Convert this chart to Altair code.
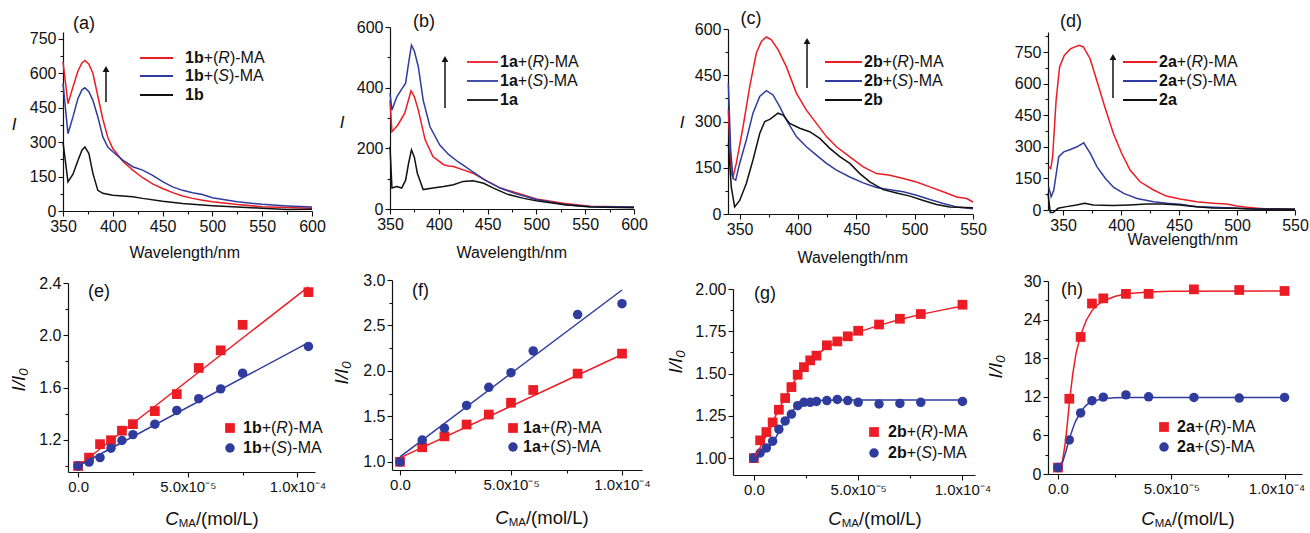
import altair as alt
import pandas as pd

FONT = "Liberation Sans"
W, H = 1310, 533
RED = "#ec1c24"
BLUE = "#2f3c9e"
BLACK = "#111111"

# ---------------- (a) 1b spectra ----------------
A_R_WL = [350, 355, 360, 365, 369, 372, 376, 380, 385, 390, 395, 400, 410, 420, 430, 440, 450, 460, 470, 480, 490, 500, 525, 550, 575, 600]
A_R_I = [650, 468, 540, 610, 645, 656, 640, 600, 500, 400, 320, 272, 217, 178, 145, 118, 98, 80, 65, 55, 47, 40, 28, 19, 15, 12]
A_S_WL = [350, 355, 360, 365, 369, 372, 376, 380, 385, 390, 395, 400, 410, 420, 430, 440, 450, 460, 470, 480, 490, 500, 525, 550, 575, 600]
A_S_I = [555, 337, 410, 490, 528, 537, 520, 482, 410, 323, 279, 258, 222, 193, 178, 155, 128, 105, 90, 80, 72, 58, 40, 29, 22, 17]
A_0_WL = [350, 355, 360, 365, 369, 372, 376, 380, 385, 390, 400, 420, 430, 450, 470, 500, 525, 550, 575, 600]
A_0_I = [300, 127, 160, 220, 265, 279, 250, 164, 90, 77, 69, 62, 55, 43, 33, 23, 17, 12, 6, 8]

# ---------------- (b) 1a spectra ----------------
B_R_WL = [350, 352, 358, 365, 369, 371.5, 375, 379, 386, 394, 405, 410, 415, 425, 435, 447, 463, 480, 500, 529, 555, 600]
B_R_I = [359, 255, 277, 315, 360, 390, 370, 326, 228, 173, 146, 142, 140, 129, 118, 96, 69, 53, 33, 18, 9, 7]
B_S_WL = [350, 352, 357, 362, 366, 369, 372, 375, 379, 384, 391, 401, 410, 420, 425, 435, 447, 463, 480, 500, 530, 555, 600]
B_S_I = [381, 326, 370, 395, 415, 480, 540, 520, 469, 359, 271, 211, 180, 155, 145, 122, 96, 69, 49, 31, 14, 8, 7]
B_0_WL = [350, 352, 357, 362, 366, 369, 372, 375, 378, 384, 394, 405, 415, 425, 435, 446, 456, 470, 487, 500, 529, 555, 600]
B_0_I = [206, 69, 74, 69, 95, 150, 195, 170, 118, 64, 69, 74, 80, 91, 93, 85, 69, 49, 35, 27, 14, 7, 4]

# ---------------- (c) 2b spectra ----------------
C_R_WL = [340.3, 342.8, 344.3, 347.1, 352.9, 358.6, 364.3, 368.6, 372.9, 377.2, 382.9, 390, 398.6, 407.2, 415.8, 424.4, 433, 444.4, 455.9, 467.3, 478.8, 490.2, 501.6, 513, 524.5, 536, 544.6, 550]
C_R_I = [337, 131, 120, 164, 283, 413, 522, 560, 574, 565, 533, 478, 392, 337, 294, 251, 218, 185, 153, 131, 126, 115, 104, 88, 72, 55, 50, 39]
C_S_WL = [340.3, 342.3, 344.3, 346.6, 350, 355.7, 361.4, 367.2, 372.9, 378.6, 384.3, 390, 398.6, 407.2, 415.8, 424.4, 433, 444.4, 455.9, 467.3, 478.8, 490.2, 501.6, 513, 524.5, 536, 550]
C_S_I = [424, 207, 115, 110, 164, 240, 327, 381, 400, 386, 348, 305, 251, 218, 191, 164, 142, 120, 101, 86, 79, 72, 61, 47, 34, 23, 17]
C_0_WL = [340.3, 342.8, 345.7, 350, 355.7, 361.4, 367.2, 371.5, 375.8, 382.9, 387.2, 392.9, 401.5, 410, 418.7, 427.3, 435.8, 444.4, 453, 461.6, 473, 484.5, 496, 507.4, 518.8, 530, 550]
C_0_I = [229, 88, 23, 44, 99, 175, 261, 300, 307, 327, 321, 294, 278, 267, 245, 213, 186, 164, 131, 104, 79, 68, 58, 44, 31, 23, 20]

# ---------------- (d) 2a spectra ----------------
D_R_WL = [337.6, 339.4, 341, 344, 347, 351, 356.6, 363.8, 367.5, 373.3, 379, 386, 393.4, 400.6, 407.8, 416.4, 428, 439, 451, 465, 479.6, 491, 499.7, 508, 522.7, 550]
D_R_I = [205, 197, 253, 521, 679, 734, 766, 782, 774, 718, 616, 489, 363, 268, 190, 134, 95, 66, 52, 39, 32, 28, 19, 13, 6, 3]
D_S_WL = [337.6, 339.7, 342, 346.3, 350.6, 356.3, 362, 367.8, 373.6, 379.3, 386.5, 393.7, 402.3, 413.8, 428, 439.7, 451, 465.5, 480, 497, 508.6, 550]
D_S_I = [110, 63, 95, 253, 276, 287, 300, 319, 268, 205, 150, 107, 79, 55, 39, 32, 27, 16, 13, 9, 6, 3]
D_0_WL = [337, 339, 341.4, 345.7, 353, 361.5, 368.7, 376, 393, 407.5, 422, 436, 450.6, 465, 479, 496.6, 513.8, 550]
D_0_I = [79, -12, -12, 8, 16, 24, 32, 24, 21, 24, 28, 28, 24, 16, 9, 8, 5, 3]

# ---------------- (e) 1b titration ----------------
E_X = [0, 0.5e-5, 1e-5, 1.5e-5, 2e-5, 2.5e-5, 3.5e-5, 4.5e-5, 5.5e-5, 6.5e-5, 7.5e-5, 1.05e-4]
E_R = [1.0, 1.064, 1.167, 1.197, 1.27, 1.32, 1.42, 1.55, 1.75, 1.885, 2.08, 2.33]
E_S = [1.0, 1.03, 1.064, 1.136, 1.195, 1.24, 1.32, 1.425, 1.515, 1.59, 1.71, 1.915]
E_FIT_X = [0, 1.05e-4]
E_FIT_R = [1.0, 2.37]
E_FIT_S = [1.0, 1.944]

# ---------------- (f) 1a titration ----------------
F_X = [0, 1e-5, 2e-5, 3e-5, 4e-5, 5e-5, 6e-5, 8e-5, 1e-4]
F_R = [1.0, 1.16, 1.28, 1.41, 1.52, 1.65, 1.79, 1.97, 2.19]
F_S = [1.0, 1.24, 1.37, 1.62, 1.82, 1.98, 2.22, 2.62, 2.74]
F_FIT_X = [0, 1e-4]
F_FIT_R = [1.044, 2.18]
F_FIT_S = [1.055, 2.89]

# ---------------- (g) 2b titration ----------------
G_X = [0, 0.3e-5, 0.6e-5, 0.9e-5, 1.2e-5, 1.5e-5, 1.8e-5, 2.1e-5, 2.4e-5, 2.7e-5, 3.0e-5, 3.5e-5, 4.0e-5, 4.5e-5, 5.0e-5, 6.0e-5, 7.0e-5, 8.0e-5, 1.0e-4]
G_R = [1.0, 1.105, 1.154, 1.211, 1.286, 1.355, 1.42, 1.493, 1.538, 1.578, 1.606, 1.667, 1.69, 1.72, 1.753, 1.79, 1.824, 1.852, 1.907]
G_S = [1.0, 1.03, 1.06, 1.10, 1.17, 1.22, 1.26, 1.31, 1.33, 1.33, 1.335, 1.34, 1.347, 1.34, 1.33, 1.32, 1.323, 1.33, 1.335]
G_FIT_RX = [0, 0.25e-5, 0.5e-5, 0.75e-5, 1.0e-5, 1.25e-5, 1.5e-5, 1.75e-5, 2.0e-5, 2.5e-5, 3.0e-5, 3.5e-5, 4.0e-5, 5.0e-5, 6.0e-5, 7.0e-5, 8.0e-5, 9.0e-5, 1.0e-4]
G_FIT_R = [1.0, 1.05, 1.11, 1.175, 1.24, 1.30, 1.36, 1.415, 1.465, 1.55, 1.61, 1.655, 1.69, 1.745, 1.785, 1.82, 1.85, 1.875, 1.90]
G_FIT_SX = [0, 0.5e-5, 0.75e-5, 1.0e-5, 1.25e-5, 1.5e-5, 1.75e-5, 2.0e-5, 2.25e-5, 2.5e-5, 3.0e-5, 4.0e-5, 6.0e-5, 1.0e-4]
G_FIT_S = [1.0, 1.04, 1.07, 1.11, 1.165, 1.22, 1.265, 1.30, 1.32, 1.332, 1.34, 1.343, 1.343, 1.343]

# ---------------- (h) 2a titration ----------------
H_X = [0, 0.5e-5, 1e-5, 1.5e-5, 2e-5, 3e-5, 4e-5, 6e-5, 8e-5, 1e-4]
H_R = [1.0, 11.7, 21.3, 26.5, 27.3, 28.0, 28.0, 28.7, 28.6, 28.45]
H_S = [1.0, 5.3, 9.5, 11.4, 11.95, 12.3, 12.0, 11.9, 11.8, 11.9]
H_FIT_RX = [0, 0.2e-5, 0.35e-5, 0.5e-5, 0.65e-5, 0.8e-5, 1.0e-5, 1.25e-5, 1.5e-5, 1.75e-5, 2.0e-5, 2.5e-5, 3.0e-5, 4.0e-5, 5.0e-5, 1.0e-4]
H_FIT_R = [1.0, 2.0, 5.5, 11.0, 15.5, 18.8, 21.6, 23.9, 25.4, 26.3, 26.9, 27.6, 28.0, 28.3, 28.4, 28.45]
H_FIT_SX = [0, 0.2e-5, 0.35e-5, 0.5e-5, 0.75e-5, 1.0e-5, 1.25e-5, 1.5e-5, 2.0e-5, 2.5e-5, 3.0e-5, 1.0e-4]
H_FIT_S = [1.0, 1.8, 3.5, 5.5, 8.0, 9.7, 10.7, 11.3, 11.7, 11.85, 11.9, 11.9]

# ---------------- text labels ----------------
PANEL_TAGS = ["(a)", "(b)", "(c)", "(d)", "(e)", "(f)", "(g)", "(h)"]
SPEC_CMPDS = ["1b", "1a", "2b", "2a"]
TITR_CMPDS = ["1b", "1a", "2b", "2a"]
X_TITLE_TOP = "Wavelength/nm"

# ---------------- helpers ----------------
REG = {' ': 278, '(': 333, ')': 333, '+': 584, '-': 333, '.': 278, '/': 278,
       'A': 667, 'C': 722, 'I': 278, 'L': 556, 'M': 833, 'R': 722, 'S': 667, 'W': 944,
       'a': 556, 'b': 556, 'c': 500, 'd': 556, 'e': 556, 'g': 556, 'h': 556, 'l': 222,
       'm': 833, 'n': 556, 'o': 556, 't': 278, 'v': 500}
BOLDW = {'a': 556, 'b': 611}


def tw(s, style, size):
    tot = 0
    for ch in s:
        if style == 'b' and ch in BOLDW:
            tot += BOLDW[ch]
        else:
            tot += REG.get(ch, 556)
    return tot * size / 1000.0


ROWS = {'n': [], 'b': [], 'i': []}


def rich(segs, x, y, size, anchor='left', angle=0):
    total = sum(tw(t, st, size * sc) for t, st, sc, sh in segs)
    cur = 0 if anchor == 'left' else -total / 2
    for t, st, sc, sh in segs:
        fs = size * sc
        if angle == 0:
            px, py = x + cur, y + sh
        else:
            px, py = x + sh, y - cur
        ROWS[st].append(dict(t=t, px=px, py=py, fs=fs, ang=angle))
        cur += tw(t, st, fs)


def ax(orient, offset, values, fmt=None, expr=None, minor=False, lsize=16, domain=True, loff=None):
    d = dict(orient=orient, offset=offset, values=values, title=None, grid=False,
             domainColor=BLACK, domainWidth=1.2, tickColor=BLACK, tickWidth=1.1,
             tickSize=3 if minor else 5, labelFont=FONT, labelFontSize=lsize,
             labelColor=BLACK, labelPadding=2, labelFlush=False, labelOverlap=False)
    if minor:
        d.update(labels=False, domain=False)
    if not domain:
        d['domain'] = False
    if fmt:
        d['format'] = fmt
    if expr:
        d['labelExpr'] = expr
    if loff is not None:
        d['labelOffset'] = loff
    return alt.Axis(**d)


def sc(dom, rng):
    return alt.Scale(domain=dom, range=rng, nice=False, zero=False)


def panel(series, xdom, xr, ydom, yr, xmaj, xmin, ymaj, ymin, xfmt=None, xexpr=None,
          yfmt=None, xls=16, xlast=None):
    xs, ys = sc(xdom, xr), sc(ydom, yr)
    out = []
    for i, (xv, yv, kind, col) in enumerate(series):
        df = pd.DataFrame({'x': xv, 'y': yv})
        if i == 0:
            xa = ax('bottom', yr[0] - H, xmaj, fmt=xfmt, expr=xexpr, lsize=xls)
            ya = ax('left', -xr[0], ymaj, fmt=yfmt)
        elif i == 1:
            xa = ax('bottom', yr[0] - H, xmin, minor=True)
            ya = ax('left', -xr[0], ymin, minor=True)
        elif i == 2 and xlast is not None:
            xa = ax('bottom', yr[0] - H, [xlast[0]], fmt=xfmt, expr=xexpr, lsize=xls,
                    domain=False, loff=xlast[1])
            ya = None
        else:
            xa = ya = None
        if kind == 'line':
            m = alt.Chart(df).mark_line(color=col, strokeWidth=1.5)
        elif kind == 'square':
            m = alt.Chart(df).mark_point(shape='square', filled=True, size=95, color=col, opacity=1)
        else:
            m = alt.Chart(df).mark_circle(size=90, color=col, opacity=1)
        out.append(m.encode(x=alt.X('x:Q', scale=xs, axis=xa),
                            y=alt.Y('y:Q', scale=ys, axis=ya)))
    return out


layers = []
XMAJ = [350, 400, 450, 500, 550, 600]
XMIN = [375, 425, 475, 525, 575]
XMAJ2 = [350, 400, 450, 500, 550]
XMIN2 = [375, 425, 475, 525]
Y150 = [0, 150, 300, 450, 600, 750]
Y150m = [75, 225, 375, 525, 675]

layers += panel([(A_R_WL, A_R_I, 'line', RED), (A_S_WL, A_S_I, 'line', BLUE), (A_0_WL, A_0_I, 'line', BLACK)],
                [350, 600], [63, 312], [0, 780], [211, 32], XMAJ, XMIN, Y150, Y150m, xfmt='d', yfmt='d')
layers += panel([(B_R_WL, B_R_I, 'line', RED), (B_S_WL, B_S_I, 'line', BLUE), (B_0_WL, B_0_I, 'line', BLACK)],
                [350, 600], [390, 634], [0, 600], [209, 27], XMAJ, XMIN, [0, 200, 400, 600], [100, 300, 500], xfmt='d', yfmt='d')
layers += panel([(C_R_WL, C_R_I, 'line', RED), (C_S_WL, C_S_I, 'line', BLUE), (C_0_WL, C_0_I, 'line', BLACK)],
                [340, 550], [728, 973], [0, 600], [214, 29], XMAJ2, XMIN2, Y150[:-1], Y150m[:-1], xfmt='d', yfmt='d')
layers += panel([(D_R_WL, D_R_I, 'line', RED), (D_S_WL, D_S_I, 'line', BLUE), (D_0_WL, D_0_I, 'line', BLACK)],
                [337, 550], [1048, 1295], [0, 845], [210, 32], XMAJ2, XMIN2, Y150, Y150m + [825], xfmt='d', yfmt='d')

CX = [0, 5e-5, 1e-4]
CXm = [2.5e-5, 7.5e-5]
CEXPR = "datum.value == 0 ? '0.0' : (datum.value < 0.00007 ? '5.0x10\u207b\u2075' : '1.0x10\u207b\u2074')"

layers += panel([(E_X, E_R, 'square', RED), (E_X, E_S, 'circle', BLUE),
                 (E_FIT_X, E_FIT_R, 'line', RED), (E_FIT_X, E_FIT_S, 'line', BLUE)],
                [-4.6e-6, 1.08e-4], [68, 315], [0.954, 2.4], [472, 283], CX, CXm,
                [1.2, 1.6, 2.0, 2.4], [1.0, 1.4, 1.8, 2.2], xexpr=CEXPR, yfmt='.1f', xls=15)
layers += panel([(F_X, F_R, 'square', RED), (F_X, F_S, 'circle', BLUE),
                 (F_FIT_X, F_FIT_R, 'line', RED), (F_FIT_X, F_FIT_S, 'line', BLUE)],
                [-3.6e-6, 1.09e-4], [392, 642], [0.91, 3.0], [470, 280], CX, CXm,
                [1.0, 1.5, 2.0, 2.5, 3.0], [1.25, 1.75, 2.25, 2.75], xexpr=CEXPR, yfmt='.1f', xls=15)
layers += panel([(G_X, G_R, 'square', RED), (G_X, G_S, 'circle', BLUE),
                 (G_FIT_RX, G_FIT_R, 'line', RED), (G_FIT_SX, G_FIT_S, 'line', BLUE)],
                [-1.0e-5, 1.06e-4], [733, 975], [0.9, 2.0], [475, 289], CX, CXm,
                [1.0, 1.25, 1.5, 1.75, 2.0], [1.125, 1.375, 1.625, 1.875], xexpr=CEXPR, yfmt='.2f', xls=15)
layers += panel([(H_X, H_R, 'square', RED), (H_X, H_S, 'circle', BLUE),
                 (H_FIT_RX, H_FIT_R, 'line', RED), (H_FIT_SX, H_FIT_S, 'line', BLUE)],
                [-4.4e-6, 1.077e-4], [1048, 1302], [0, 30], [474, 281], CX[:2], CXm,
                [0, 6, 12, 18, 24, 30], [3, 9, 15, 21, 27], xexpr=CEXPR, yfmt='d', xls=15,
                xlast=(1e-4, -8))

# ---------------- annotations ----------------
TAG_POS = [(84, 24), (424, 22), (751, 19), (1071, 22), (99, 292), (423, 291), (765, 294), (1072, 290)]
for tag, (x, y) in zip(PANEL_TAGS, TAG_POS):
    rich([(tag, 'n', 1, 0)], x, y, 18, anchor='center')

for x, y in [(14, 125), (342, 123), (682, 123)]:
    rich([("I", 'i', 1, 0)], x, y, 17, anchor='center')

for x, y in [(185, 253), (512, 253), (853, 258), (1183, 240)]:
    rich([(X_TITLE_TOP, 'n', 1, 0)], x, y, 16, anchor='center')

for x, y in [(19, 380), (342, 373), (676, 362), (996, 367)]:
    rich([("I/I", 'i', 1, 0), ("0", 'i', 0.7, 5)], x, y, 19, anchor='center', angle=270)

for x, y in [(212, 519), (542, 518), (875, 519), (1188, 519)]:
    rich([("C", 'i', 1, 0), ("MA", 'n', 0.62, 5), ("/(mol/L)", 'n', 1, 0)], x, y, 18.5, anchor='center')

LEG_LINE = []
LEG_TOP = [((140, 173), (58, 76, 95), 185), ((467, 498), (62, 81, 100), 500),
           ((825, 862), (62, 81, 100), 864), ((1123, 1157), (62, 81, 100), 1159)]
for cmp, ((lx0, lx1), ysl, tx) in zip(SPEC_CMPDS, LEG_TOP):
    for (col, ch), yy in zip([(RED, 'R'), (BLUE, 'S'), (BLACK, None)], ysl):
        LEG_LINE.append(dict(x0=lx0, x1=lx1, y=yy, c=col))
        if ch:
            rich([(cmp, 'b', 1, 0), ("+(", 'n', 1, 0), (ch, 'i', 1, 0), (")-MA", 'n', 1, 0)], tx, yy, 16)
        else:
            rich([(cmp, 'b', 1, 0)], tx, yy, 16)

LEG_SQ, LEG_CI = [], []
LEG_BOT = [(230, (428, 448), 243), (513, (428, 447), 523), (874, (432, 453), 888), (1164, (427, 447), 1177)]
for cmp, (mx, (y1, y2), tx) in zip(TITR_CMPDS, LEG_BOT):
    LEG_SQ.append(dict(x=mx, y=y1))
    LEG_CI.append(dict(x=mx, y=y2))
    rich([(cmp, 'b', 1, 0), ("+(", 'n', 1, 0), ("R", 'i', 1, 0), (")-MA", 'n', 1, 0)], tx, y1, 16)
    rich([(cmp, 'b', 1, 0), ("+(", 'n', 1, 0), ("S", 'i', 1, 0), (")-MA", 'n', 1, 0)], tx, y2, 16)

ARROWS = [dict(x=106, yb=102, yt=65), dict(x=445, yb=108, yt=55), dict(x=807, yb=88, yt=37), dict(x=1113, yb=98, yt=53)]
arr = pd.DataFrame(ARROWS)
arr['ys'] = arr['yt'] + 6
arr['yh'] = arr['yt'] + 4

PX = lambda f: alt.X(f, scale=None, axis=None)
PY = lambda f: alt.Y(f, scale=None, axis=None)

layers.append(alt.Chart(pd.DataFrame(LEG_LINE)).mark_rule(strokeWidth=1.8).encode(
    x=PX('x0:Q'), x2='x1:Q', y=PY('y:Q'), color=alt.Color('c:N', scale=None, legend=None)))
layers.append(alt.Chart(pd.DataFrame(LEG_SQ)).mark_point(shape='square', filled=True, size=95, color=RED, opacity=1).encode(
    x=PX('x:Q'), y=PY('y:Q')))
layers.append(alt.Chart(pd.DataFrame(LEG_CI)).mark_circle(size=90, color=BLUE, opacity=1).encode(
    x=PX('x:Q'), y=PY('y:Q')))
layers.append(alt.Chart(arr).mark_rule(strokeWidth=1.5, color=BLACK).encode(
    x=PX('x:Q'), y=PY('yb:Q'), y2='ys:Q'))
layers.append(alt.Chart(arr).mark_point(shape='triangle-up', filled=True, size=45, color=BLACK, opacity=1).encode(
    x=PX('x:Q'), y=PY('yh:Q')))

for st in ['n', 'b', 'i']:
    df = pd.DataFrame(ROWS[st])
    layers.append(alt.Chart(df).mark_text(
        align='left', baseline='middle', font=FONT, color=BLACK,
        fontWeight='bold' if st == 'b' else 'normal',
        fontStyle='italic' if st == 'i' else 'normal').encode(
        x=PX('px:Q'), y=PY('py:Q'), text='t:N',
        size=alt.Size('fs:Q', scale=None, legend=None),
        angle=alt.Angle('ang:Q', scale=None, legend=None)))

chart = alt.layer(*layers).resolve_scale(x='independent', y='independent').properties(
    width=W, height=H, padding=0, autosize=alt.AutoSizeParams(type='none'), background='white'
).configure_view(stroke=None)

chart.save("out.html", embed_options={"renderer": "svg", "actions": False})
